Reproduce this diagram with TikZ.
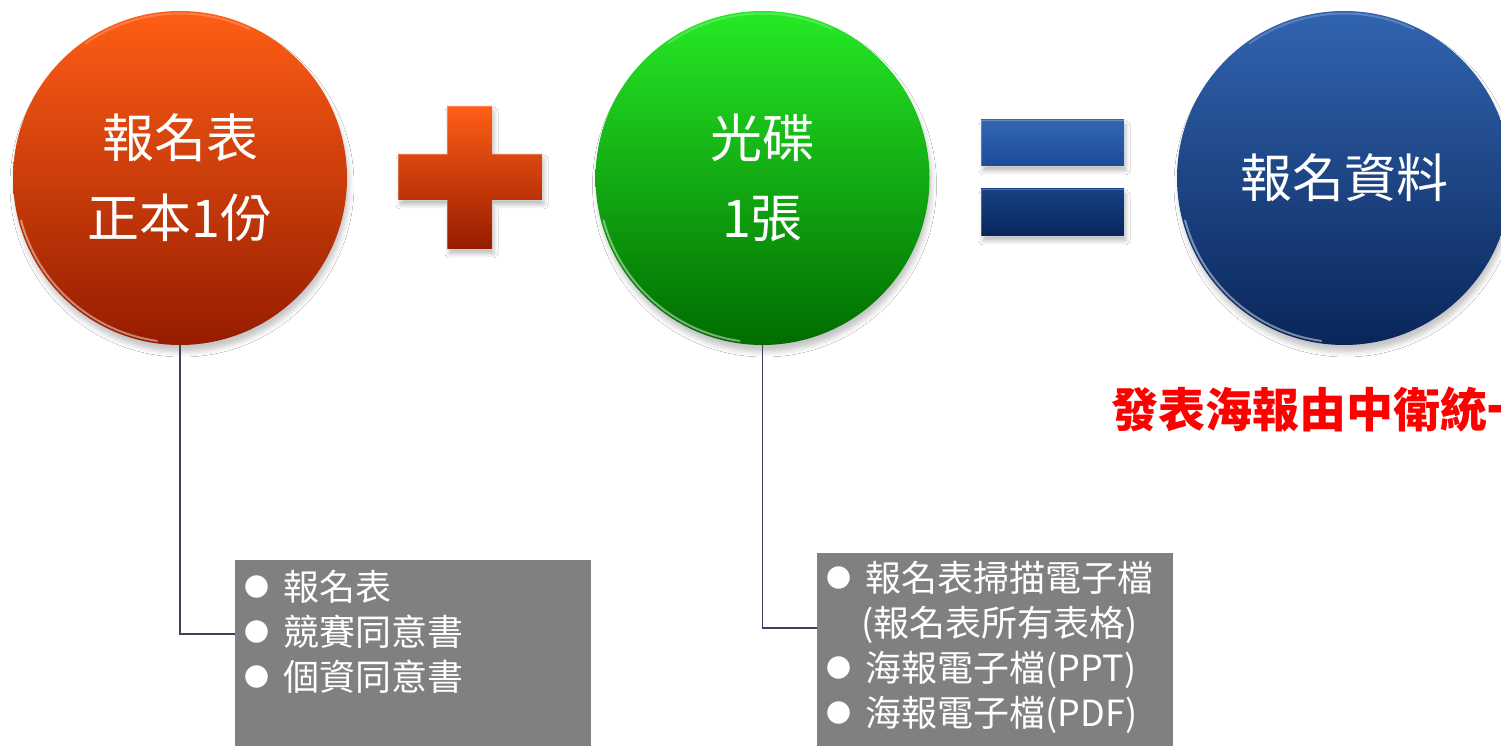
\documentclass[tikz,border=0pt]{standalone}
\usepackage{fontspec}
\setmainfont{Noto Sans CJK TC}
\usetikzlibrary{shadows.blur}
\definecolor{orTop}{HTML}{FF5E16}
\definecolor{orMid}{HTML}{E03C02}
\definecolor{orBot}{HTML}{961C00}
\definecolor{grTop}{HTML}{26EA26}
\definecolor{grMid}{HTML}{0CB30C}
\definecolor{grBot}{HTML}{006C00}
\definecolor{blTop}{HTML}{3264B0}
\definecolor{blMid}{HTML}{17468E}
\definecolor{blBot}{HTML}{09265A}
\definecolor{eqTopA}{HTML}{3366B2}
\definecolor{eqTopB}{HTML}{1D4C98}
\definecolor{eqBotA}{HTML}{174285}
\definecolor{eqBotB}{HTML}{07255A}
\definecolor{boxgray}{HTML}{808080}
\definecolor{connc}{HTML}{3B4160}
\newcommand\bul{\raisebox{4.5pt}{\fontsize{25}{25}\selectfont ●}\hspace{14pt}}
\tikzset{
  ball/.style={circle, minimum size=334pt, inner sep=0pt, outer sep=0pt,
    text=white, align=center, font=\fontsize{52}{80}\selectfont,
    blur shadow={shadow xshift=2pt, shadow yshift=-7pt, shadow blur radius=5pt, shadow opacity=22}},
  rim/.style={white, opacity=0.45, line width=2pt, line cap=round},
  sign/.style={draw=white, draw opacity=0.25, line width=0.8pt,
    blur shadow={shadow xshift=2pt, shadow yshift=-5pt, shadow blur radius=4pt, shadow opacity=25}},
  infobox/.style={rectangle, fill=boxgray, inner sep=0pt, outer sep=0pt, anchor=north west},
  boxtext/.style={text=white, align=left, font=\fontsize{36}{45}\selectfont, inner sep=0pt, anchor=west},
  conn/.style={draw=connc, line width=1.3pt},
  note/.style={text=red, font=\bfseries\fontsize{47}{47}\selectfont, inner sep=0pt, anchor=west}
}
\begin{document}
\begin{tikzpicture}[x=1pt, y=1pt]
\clip (0,0) rectangle (1501,746);
\fill[white] (0,0) rectangle (1501,746);

% circles
\node[ball, top color=orTop, middle color=orMid, bottom color=orBot] (o1) at (180,568) {報名表\\正本1份};
\node[ball, top color=grTop, middle color=grMid, bottom color=grBot] (o2) at (762.5,568) {光碟\\1張};
\node[ball, top color=blTop, middle color=blMid, bottom color=blBot] (o3) at (1344,568) {報名資料};
\foreach \o in {o1,o2,o3}{
  \draw[rim] ([shift={(195:164.5)}]\o.center) arc[start angle=195, end angle=262, radius=164.5];
  \draw[rim, opacity=0.2] ([shift={(65:164.5)}]\o.center) arc[start angle=65, end angle=125, radius=164.5];
}

% plus
\shade[sign, top color=orTop, middle color=orMid, bottom color=orBot]
  (447,640) -- (492,640) -- (492,592) -- (542,592) -- (542,546) -- (492,546) -- (492,497)
  -- (447,497) -- (447,546) -- (398,546) -- (398,592) -- (447,592) -- cycle;

% equals
\shade[sign, top color=eqTopA, bottom color=eqTopB] (981,580) rectangle (1124,626);
\shade[sign, top color=eqBotA, bottom color=eqBotB] (981,510) rectangle (1124,557);

% info boxes
\node[infobox, minimum width=356pt, minimum height=186pt] (b1) at (235,186) {};
\node[infobox, minimum width=356pt, minimum height=193pt] (b2) at (817,193) {};
\node[boxtext] (t1) at (244.5,114) {\bul 報名表\\\bul 競賽同意書\\\bul 個資同意書};
\node[boxtext] (t2) at (826.5,98.5) {\bul 報名表掃描電子檔\\\hspace{35pt}(報名表所有表格)\\\bul 海報電子檔(PPT)\\\bul 海報電子檔(PDF)};

% connectors
\coordinate (c1) at (235,112);
\coordinate (c2) at (817,118);
\draw[conn] (o1.south) |- (c1);
\draw[conn] (o2.south) |- (c2);

% note
\node[note] (n1) at (1111,336) {發表海報由中衛統一};
\end{tikzpicture}
\end{document}
